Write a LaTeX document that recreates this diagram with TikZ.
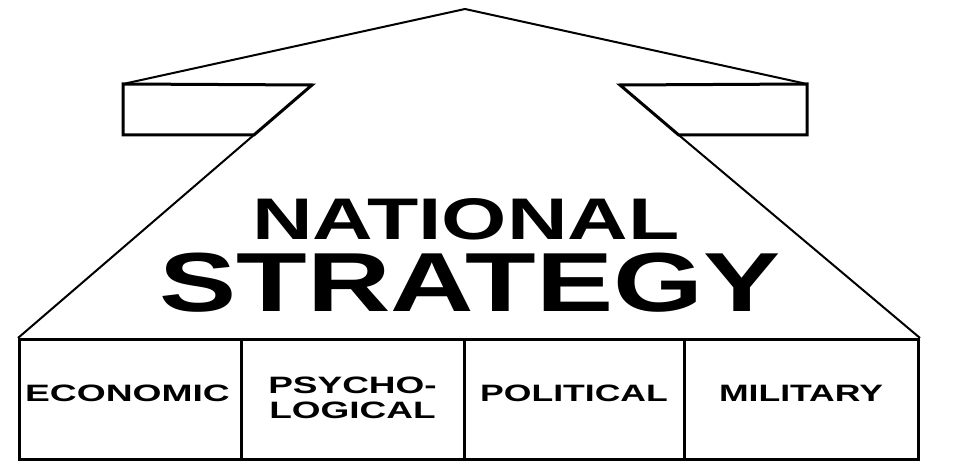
\documentclass[tikz,border=0pt]{standalone}
\usepackage{fontspec}
\setmainfont{Liberation Sans}
\usepackage{graphicx}
\usetikzlibrary{calc}
\begin{document}
\begin{tikzpicture}[x=1pt,y=-1pt,
  thinline/.style={line width=2pt, line join=miter},
  thickline/.style={line width=3pt, line join=miter},
  panel/.style={draw, line width=3pt, minimum height=120pt, inner sep=0pt, anchor=north west},
  lbl/.style={font=\bfseries\fontsize{23.7}{25}\selectfont, inner sep=0pt, align=center, text=black},
  title/.style={font=\bfseries, inner sep=0pt, anchor=base, text=black}]
\useasboundingbox (0,0) rectangle (962,470);
% bottom panels
\node[panel, minimum width=222pt] (eco) at (18,338) {};
\node[panel, minimum width=223pt] (psy) at (240,338) {};
\node[panel, minimum width=220pt] (pol) at (463,338) {};
\node[panel, minimum width=234pt] (mil) at (683,338) {};
% arrow head coordinates
\coordinate (apex) at (465,9);
\coordinate (ltl) at (123,84);
\coordinate (ltr) at (312,85);
\coordinate (lbl0) at (123,135);
\coordinate (lbr) at (intersection of 312,85--18,338 and 0,135--400,135);
\coordinate (rtr) at (807,84);
\coordinate (rtl) at (620,85);
\coordinate (rbr) at (807,135);
\coordinate (rbl) at (intersection of 620,85--917,338 and 500,135--962,135);
% wings
\draw[thickline] (ltl) -- (ltr) -- (lbr) -- (lbl0) -- cycle;
\draw[thickline] (rtr) -- (rtl) -- (rbl) -- (rbr) -- cycle;
\draw[thinline] (ltl) -- (apex) -- (rtr);
\draw[thinline] (lbr) -- (eco.north west);
\draw[thinline] (rbl) -- (mil.north east);
% titles
\node[title] (nat) at (466,240) {\fontsize{58.7}{60}\selectfont\scalebox{1.43}[1]{NATIONAL}};
\node[title] (str) at (470,312) {\fontsize{83.8}{85}\selectfont\scalebox{1.38}[1]{STRATEGY}};
% labels
\node[lbl] (ecot) at (127.5,393.5) {\scalebox{1.57}[1]{ECONOMIC}};
\node[lbl] (psyt) at (352.5,397.5) {\scalebox{1.56}[1]{PSYCHO-}\\\scalebox{1.56}[1]{LOGICAL}};
\node[lbl] (polt) at (574,393.5) {\scalebox{1.5}[1]{POLITICAL}};
\node[lbl] (milt) at (801,393.5) {\scalebox{1.5}[1]{MILITARY}};
\end{tikzpicture}
\end{document}
